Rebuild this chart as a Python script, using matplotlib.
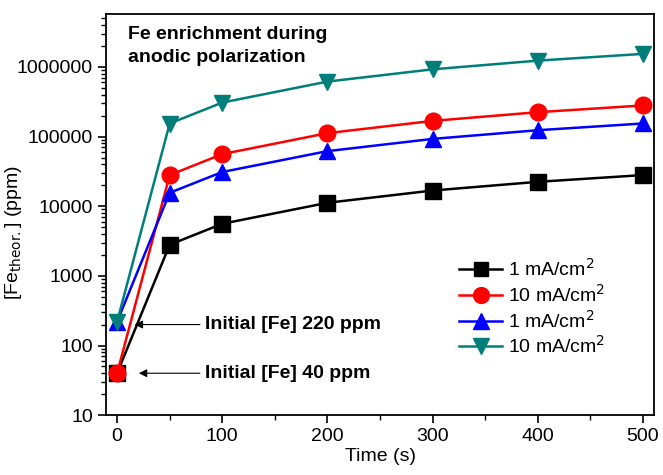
import matplotlib
matplotlib.use("Agg")
import matplotlib.pyplot as plt
from matplotlib.ticker import LogLocator, MultipleLocator, NullFormatter

plt.rcParams['font.family'] = ['Liberation Sans', 'DejaVu Sans']

time_s = [0, 50, 100, 200, 300, 400, 500]
fe_1ma_a = [40, 2800, 5600, 11200, 16800, 22400, 28000]
fe_10ma_a = [40, 28000, 56000, 112000, 168000, 224000, 280000]
fe_1ma_b = [220, 15600, 31000, 61800, 92600, 123400, 154200]
fe_10ma_b = [220, 154000, 308000, 616000, 924000, 1232000, 1540000]

labels = ["1 mA/cm$^2$", "10 mA/cm$^2$", "1 mA/cm$^2$", "10 mA/cm$^2$"]

fig = plt.figure(figsize=(6.63, 4.75), dpi=100)
ax = fig.add_axes([0.16, 0.126, 0.827, 0.845])

ax.plot(time_s, fe_1ma_a, color='black', marker='s', markersize=11, lw=1.8, label=labels[0])
ax.plot(time_s, fe_10ma_a, color='red', marker='o', markersize=12, lw=1.8, label=labels[1])
ax.plot(time_s, fe_1ma_b, color='blue', marker='^', markersize=12, lw=1.8, label=labels[2])
ax.plot(time_s, fe_10ma_b, color='#007f7a', marker='v', markersize=12, lw=1.8, label=labels[3])

ax.set_yscale('log')
ax.set_xlim(-10.5, 511)
ax.set_ylim(10, 5.8e6)
ax.xaxis.set_major_locator(MultipleLocator(100))
ax.xaxis.set_minor_locator(MultipleLocator(50))
ax.yaxis.set_minor_locator(LogLocator(base=10, subs=range(2, 10), numticks=20))
ax.yaxis.set_minor_formatter(NullFormatter())
ax.set_yticks([10, 100, 1000, 10000, 100000, 1000000])
ax.set_yticklabels(['10', '100', '1000', '10000', '100000', '1000000'])

ax.tick_params(which='both', direction='out', top=False, right=False, labelsize=14)
ax.tick_params(which='major', length=6, width=1.2)
ax.tick_params(which='minor', length=3.5, width=1)
for sp in ax.spines.values():
    sp.set_linewidth(1.3)

ax.set_xlabel("Time (s)", fontsize=14, labelpad=2)
ax.set_ylabel("[Fe$_{\\mathrm{theor.}}$] (ppm)", fontsize=14)
ax.yaxis.set_label_coords(-0.15, 0.456)

ax.text(0.04, 0.97, "Fe enrichment during\nanodic polarization", transform=ax.transAxes,
        fontsize=14, fontweight='bold', va='top', ha='left', linespacing=1.5)

arrow = dict(arrowstyle='-|>', color='black', lw=0.8, mutation_scale=12)
ax.annotate("Initial [Fe] 220 ppm", xy=(14, 200), xytext=(84, 200),
            fontsize=14, fontweight='bold', va='center', arrowprops=arrow)
ax.annotate("Initial [Fe] 40 ppm", xy=(18, 40), xytext=(84, 40),
            fontsize=14, fontweight='bold', va='center', arrowprops=arrow)

ax.legend(loc='lower left', bbox_to_anchor=(0.63, 0.125), frameon=False, fontsize=14,
          handlelength=2.2, handletextpad=0.3, labelspacing=0.2, borderaxespad=0,
          markerscale=0.95)

fig.savefig("out.png", dpi=100)
